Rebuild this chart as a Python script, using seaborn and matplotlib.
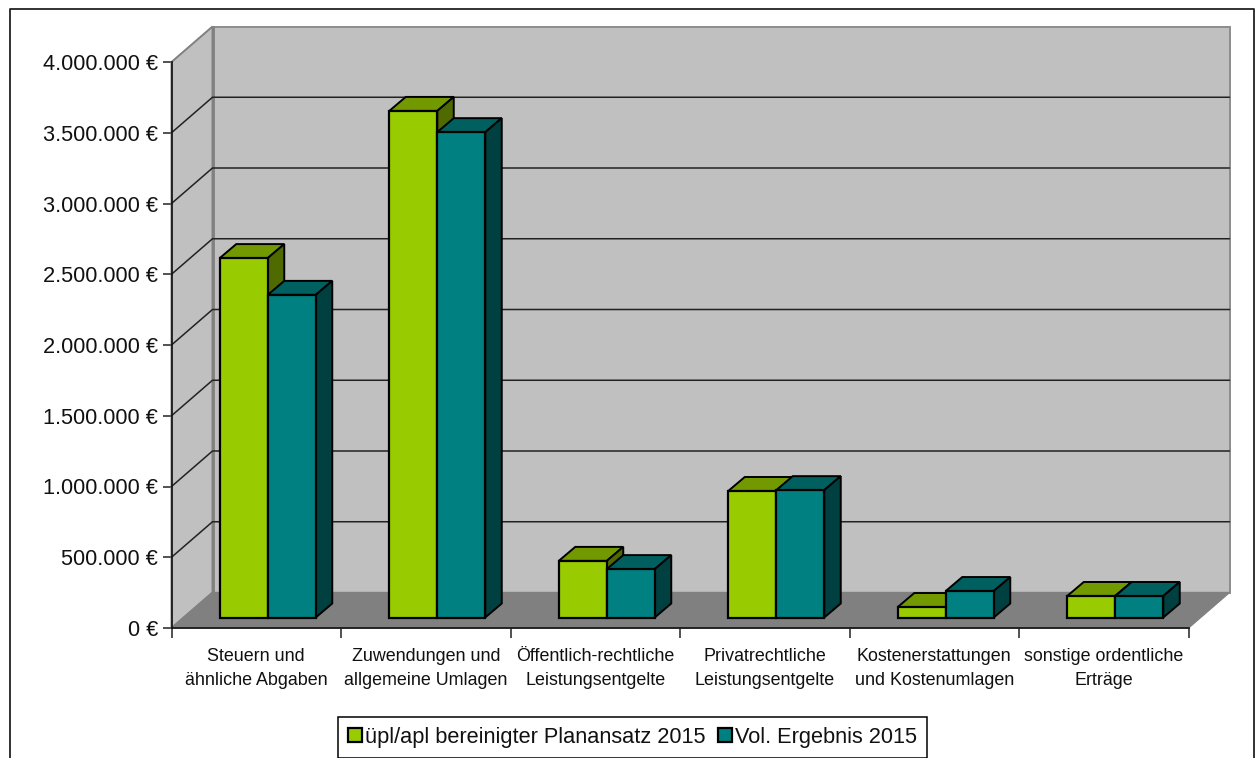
import matplotlib
matplotlib.use("Agg")
import matplotlib.pyplot as plt
import pandas as pd
import seaborn as sns
from matplotlib.lines import Line2D
from matplotlib.patches import Polygon, Rectangle
from matplotlib.transforms import Affine2D, IdentityTransform

categories = ["Steuern und\nähnliche Abgaben", "Zuwendungen und\nallgemeine Umlagen",
              "Öffentlich-rechtliche\nLeistungsentgelte", "Privatrechtliche\nLeistungsentgelte",
              "Kostenerstattungen\nund Kostenumlagen", "sonstige ordentliche\nErträge"]
plan = [2540000, 3580000, 400000, 894000, 74000, 152000]
ergebnis = [2280000, 3430000, 342000, 900000, 187000, 152000]
series_names = ["üpl/apl bereinigter Planansatz 2015", "Vol. Ergebnis 2015"]
yticks = [0, 500000, 1000000, 1500000, 2000000, 2500000, 3000000, 3500000, 4000000]
ylabels = ["0 €", "500.000 €", "1.000.000 €", "1.500.000 €", "2.000.000 €",
           "2.500.000 €", "3.000.000 €", "3.500.000 €", "4.000.000 €"]

W, H = 1256, 758
sns.set_style("white")
plt.rcParams["font.family"] = ["Liberation Sans", "DejaVu Sans"]

df = pd.DataFrame({
    "cat": categories * 2,
    "value": plan + ergebnis,
    "series": [series_names[0]] * 6 + [series_names[1]] * 6,
})

fig = plt.figure(figsize=(W / 100, H / 100), dpi=100)
ax = fig.add_axes([171.5 / W, (H - 628) / H, 1017 / W, 566 / H])
ax.patch.set_visible(False)

colors = ["#99CC00", "#008080"]
tops = ["#739900", "#006060"]
sides = ["#4F6A00", "#004040"]

sns.barplot(data=df, x="cat", y="value", hue="series", palette=colors, saturation=1,
            width=0.5664, gap=0, edgecolor="black", linewidth=1.6, ax=ax, zorder=5)
ax.set_xlim(-0.5, 5.5)
ax.set_ylim(0, 4000000)
ax.set_xlabel("")
ax.set_ylabel("")

# back wall, side wall, floor
wall_dx, wall_dy = 41, 35.5
x0, y0 = ax.transData.transform((-0.5, 0))
x1, y1 = ax.transData.transform((5.5, 4000000))
pix = IdentityTransform()
ax.add_patch(Polygon([(x0, y0), (x0 + wall_dx, y0 + wall_dy), (x0 + wall_dx, y1 + wall_dy), (x0, y1)],
                     fc="#C0C0C0", ec="#808080", lw=1.4, transform=pix, clip_on=False, zorder=1))
ax.add_patch(Rectangle((x0 + wall_dx, y0 + wall_dy), x1 - x0, y1 - y0, fc="#C0C0C0", ec="#8C8C8C",
                       lw=1.4, transform=pix, clip_on=False, zorder=1))
ax.add_line(Line2D([x0 + wall_dx] * 2, [y0 + wall_dy, y1 + wall_dy], color="#808080", lw=2,
                   transform=pix, clip_on=False, zorder=2))
ax.add_patch(Polygon([(x0, y0), (x1, y0), (x1 + wall_dx, y0 + wall_dy), (x0 + wall_dx, y0 + wall_dy)],
                     fc="#808080", ec="#808080", lw=1, transform=pix, clip_on=False, zorder=2))
for v in yticks[1:-1]:
    _, yp = ax.transData.transform((0, v))
    ax.add_line(Line2D([x0, x0 + wall_dx, x1 + wall_dx], [yp, yp + wall_dy, yp + wall_dy],
                       color="#222222", lw=1.1, transform=pix, clip_on=False, zorder=3))

# fake 3d on the seaborn bars
bar_dx, bar_dy = 11.5, 10.5
depth_x, depth_y = 16.5, 14
shift = Affine2D().translate(bar_dx, bar_dy)
z = 10
for s in range(2):
    for bar in ax.containers[s]:
        (xa, ya) = ax.transData.transform((bar.get_x(), 0))
        (xb, yb) = ax.transData.transform((bar.get_x() + bar.get_width(), bar.get_height()))
        xa, xb = xa + bar_dx, xb + bar_dx
        ya, yb = ya + bar_dy, yb + bar_dy
        ax.add_patch(Polygon([(xa, yb), (xb, yb), (xb + depth_x, yb + depth_y), (xa + depth_x, yb + depth_y)],
                             fc=tops[s], ec="black", lw=1.4, transform=pix, clip_on=False, zorder=z))
        ax.add_patch(Polygon([(xb, ya), (xb + depth_x, ya + depth_y), (xb + depth_x, yb + depth_y), (xb, yb)],
                             fc=sides[s], ec="black", lw=1.4, transform=pix, clip_on=False, zorder=z))
        bar.set_transform(ax.transData + shift)
        bar.set_clip_on(False)
        bar.set_zorder(z + 1)
        z += 2

# axes
for name in ["top", "right"]:
    ax.spines[name].set_visible(False)
for name in ["left", "bottom"]:
    ax.spines[name].set_color("#111111")
    ax.spines[name].set_linewidth(1.2)
    ax.spines[name].set_zorder(40)
ax.set_yticks(yticks, ylabels, fontsize=15.7, color="#111111")
ax.tick_params(axis="y", left=True, length=6.5, width=1.2, color="#333333", pad=3)
ax.set_xticks(range(6), categories, fontsize=12.9, color="#111111", linespacing=1.56)
ax.set_xticks([i - 0.5 for i in range(7)], minor=True)
ax.tick_params(axis="x", which="major", bottom=False, length=0, pad=14.5)
ax.tick_params(axis="x", which="minor", bottom=True, length=7, width=1.2, color="#333333")

# legend
sns.move_legend(ax, "lower left", bbox_to_anchor=(338 / W, 0.5 / H), bbox_transform=fig.transFigure,
                ncol=2, title=None, frameon=True, fancybox=False, framealpha=1, edgecolor="black",
                fontsize=15.7, handlelength=0.64, handleheight=0.64, handletextpad=0.16,
                columnspacing=0.55, borderpad=0.45, borderaxespad=0, labelcolor="#111111")
ax.get_legend().set_zorder(50)
ax.get_legend().get_frame().set_linewidth(1.1)

# outer chart frame
fig.add_artist(Line2D([9.5 / W, 9.5 / W, 1254 / W, 1254 / W], [0, (H - 9) / H, (H - 9) / H, 0],
                      color="#222222", lw=1.3))

fig.savefig("out.png", dpi=100)
